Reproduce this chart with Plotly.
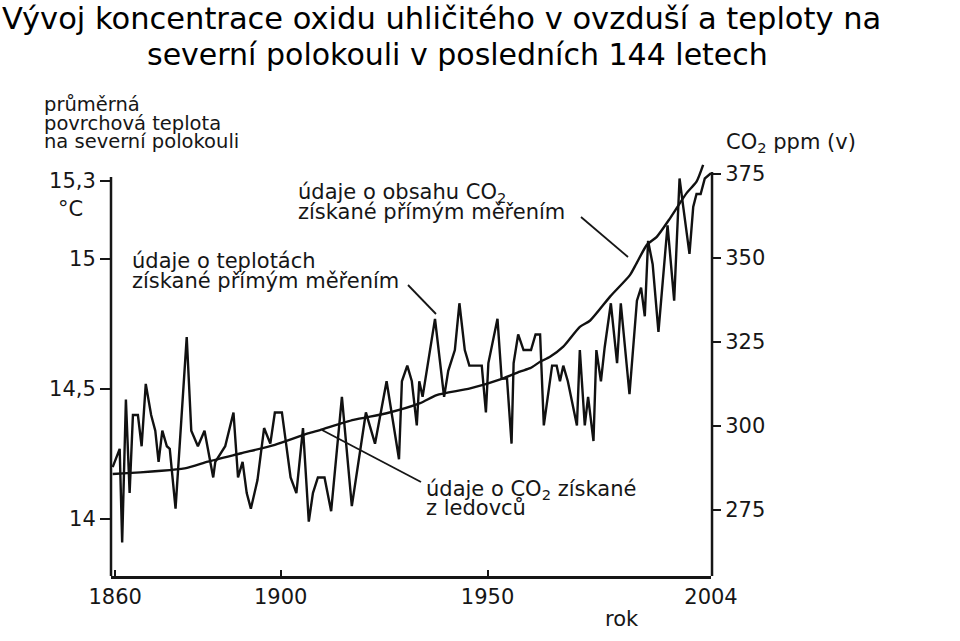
import plotly.graph_objects as go

# ---------------- data ----------------
temp_years = [1859.4, 1861.1, 1861.7, 1862.6, 1863.5, 1864.3, 1865.5, 1866.4, 1867.4, 1868.7,
              1869.7, 1870.5, 1871.4, 1872.5, 1873.2, 1874.6, 1877.3, 1878.4, 1880.0, 1881.6,
              1883.7, 1884.2, 1886.6, 1888.6, 1889.7, 1890.8, 1891.8, 1892.8, 1894.4, 1896.0,
              1897.5, 1898.6, 1900.3, 1902.4, 1903.8, 1905.4, 1906.8, 1907.8, 1909.0, 1910.6,
              1912.2, 1914.8, 1917.2, 1920.6, 1922.8, 1925.6, 1928.6, 1929.3, 1930.6, 1931.7,
              1932.9, 1933.5, 1934.3, 1937.3, 1939.5, 1940.5, 1942.1, 1943.2, 1944.5, 1945.6,
              1948.6, 1949.6, 1950.2, 1952.4, 1953.4, 1954.7, 1955.8, 1956.3, 1957.4, 1958.7,
              1960.5, 1961.6, 1962.7, 1963.6, 1965.6, 1966.7, 1967.5, 1968.3, 1969.4, 1971.6,
              1972.3, 1973.5, 1974.3, 1975.6, 1976.3, 1977.4, 1978.3, 1979.8, 1981.3, 1982.2,
              1984.3, 1986.1, 1987.1, 1988.0, 1988.8, 1989.9, 1991.3, 1993.5, 1995.1, 1996.4,
              1997.3, 1998.8, 1999.7, 2000.5, 2001.5, 2002.5, 2004.0]
temp_values = [14.20, 14.27, 13.91, 14.46, 14.10, 14.40, 14.40, 14.28, 14.52, 14.40,
               14.34, 14.22, 14.34, 14.28, 14.27, 14.04, 14.70, 14.34, 14.28, 14.34,
               14.16, 14.22, 14.28, 14.41, 14.16, 14.22, 14.10, 14.04, 14.15, 14.35,
               14.29, 14.41, 14.41, 14.16, 14.10, 14.35, 13.99, 14.10, 14.16, 14.16,
               14.03, 14.47, 14.05, 14.41, 14.29, 14.53, 14.23, 14.53, 14.59, 14.53,
               14.36, 14.53, 14.47, 14.77, 14.47, 14.57, 14.65, 14.83, 14.65, 14.59,
               14.59, 14.41, 14.60, 14.77, 14.54, 14.54, 14.29, 14.60, 14.71, 14.65,
               14.65, 14.71, 14.71, 14.36, 14.59, 14.59, 14.53, 14.59, 14.53, 14.36,
               14.65, 14.36, 14.47, 14.30, 14.65, 14.53, 14.66, 14.83, 14.60, 14.83,
               14.48, 14.84, 14.89, 14.78, 15.07, 14.98, 14.72, 15.13, 14.84, 15.31,
               15.20, 15.02, 15.20, 15.25, 15.25, 15.31, 15.33]

co2_years = [1859.4, 1876.8, 1882.4, 1890.5, 1898.6, 1906.6, 1909.5, 1917.6, 1925.6, 1933.7,
             1937.7, 1945.8, 1953.8, 1957.8, 1960.3, 1962.7, 1965.1, 1968.3, 1972.3, 1974.8,
             1979.6, 1984.4, 1986.0, 1988.5, 1990.9, 1994.1, 1998.1, 2000.5, 2002.1]
co2_values = [285.7, 287.4, 289.4, 291.9, 294.4, 297.8, 298.8, 301.8, 303.8, 306.8,
              309.2, 311.2, 314.2, 316.2, 317.2, 319.1, 320.6, 323.6, 329.5, 331.4,
              338.5, 344.9, 348.4, 353.9, 356.3, 361.8, 369.3, 372.7, 377.7]

x_tick_vals = [1860, 1900, 1950, 2004]
x_tick_text = ["1860", "1900", "1950", "2004"]
temp_tick_vals = [14, 14.5, 15, 15.3]
temp_tick_text = ["14", "14,5", "15", "15,3"]
co2_tick_vals = [275, 300, 325, 350, 375]
co2_tick_text = ["275", "300", "325", "350", "375"]

title_line1 = "Vývoj koncentrace oxidu uhličitého v ovzduší a teploty na"
title_line2 = "severní polokouli v posledních 144 letech"

# ---------------- layout helpers ----------------
W, H = 960, 641
L, R, T, B = 111, 249, 160, 65
PW, PH = W - L - R, H - T - B
X_RANGE = [1859, 2004]
TEMP_RANGE = [13.781, 15.381]
CO2_RANGE = [255.36, 379.16]

def px(xp):
    # page pixel -> paper fraction
    return (xp - L) / PW

def py(yp):
    return (H - B - yp) / PH

FONT = "DejaVu Sans"
INK = "#161616"

fig = go.Figure()
fig.add_trace(go.Scatter(x=temp_years, y=temp_values, mode="lines",
                         line=dict(color="#111111", width=2.4), yaxis="y",
                         name="teplota"))
fig.add_trace(go.Scatter(x=co2_years, y=co2_values, mode="lines",
                         line=dict(color="#111111", width=2.4, shape="spline", smoothing=0.6),
                         yaxis="y2", name="CO2"))

TICKFONT = dict(family=FONT, size=21, color=INK)
fig.update_layout(
    width=W, height=H, autosize=False,
    margin=dict(l=L, r=R, t=T, b=B, pad=0),
    paper_bgcolor="white", plot_bgcolor="white",
    showlegend=False,
    xaxis=dict(range=X_RANGE, showgrid=False, zeroline=False,
               showline=True, linecolor=INK, linewidth=2.5,
               ticks="inside", ticklen=6, tickwidth=2, tickcolor=INK,
               tickvals=x_tick_vals, ticktext=x_tick_text, tickfont=TICKFONT),
    yaxis=dict(range=TEMP_RANGE, showgrid=False, zeroline=False, showline=False,
               ticks="outside", ticklen=10, tickwidth=2, tickcolor=INK,
               tickvals=temp_tick_vals, ticktext=temp_tick_text, tickfont=TICKFONT),
    yaxis2=dict(range=CO2_RANGE, overlaying="y", side="right",
                showgrid=False, zeroline=False, showline=False,
                ticks="outside", ticklen=9, tickwidth=2, tickcolor=INK,
                tickvals=co2_tick_vals, ticktext=co2_tick_text, tickfont=TICKFONT),
)

shapes = [
    # left and right axis lines
    dict(type="line", xref="paper", yref="paper", x0=0, x1=0, y0=0, y1=py(177),
         line=dict(color=INK, width=2.5)),
    dict(type="line", xref="paper", yref="paper", x0=1.0017, x1=1.0017, y0=0, y1=py(172),
         line=dict(color=INK, width=2.5)),
    # leader lines
    dict(type="line", xref="paper", yref="paper", x0=px(581), y0=py(217), x1=px(628), y1=py(257),
         line=dict(color=INK, width=1.8)),
    dict(type="line", xref="paper", yref="paper", x0=px(408), y0=py(285), x1=px(436), y1=py(314),
         line=dict(color=INK, width=1.8)),
    dict(type="line", xref="paper", yref="paper", x0=px(322), y0=py(430), x1=px(421), y1=py(482),
         line=dict(color=INK, width=1.8)),
]
fig.update_layout(shapes=shapes)

def text(s, x, y, size=21, anchor="left", color=INK, family=FONT):
    fig.add_annotation(text=s, xref="paper", yref="paper", x=px(x), y=py(y),
                       xanchor=anchor, yanchor="middle", showarrow=False,
                       font=dict(family=family, size=size, color=color))

text(title_line1, 441, 18, size=30.5, anchor="center", color="black")
text(title_line2, 457, 54, size=30, anchor="center", color="black")

text("průměrná", 42, 104, size=19.5)
text("povrchová teplota", 42, 123, size=19.5)
text("na severní polokouli", 42, 142, size=19.5)
text("°C", 70, 209, anchor="center")
text("CO<sub>2</sub> ppm (v)", 724, 143)
text("údaje o obsahu CO<sub>2</sub>", 296, 193)
text("získané přímým měřením", 296, 212)
text("údaje o teplotách", 130, 261)
text("získané přímým měřením", 130, 281)
text("údaje o CO<sub>2</sub> získané", 424, 490)
text("z ledovců", 424, 508)
text("rok", 622, 619, anchor="center")

# remove the default 8px page margin so the figure sits at the window's corner
fig.write_html("out.html", config={"displayModeBar": False},
               post_script="document.body.style.margin='0px';")
